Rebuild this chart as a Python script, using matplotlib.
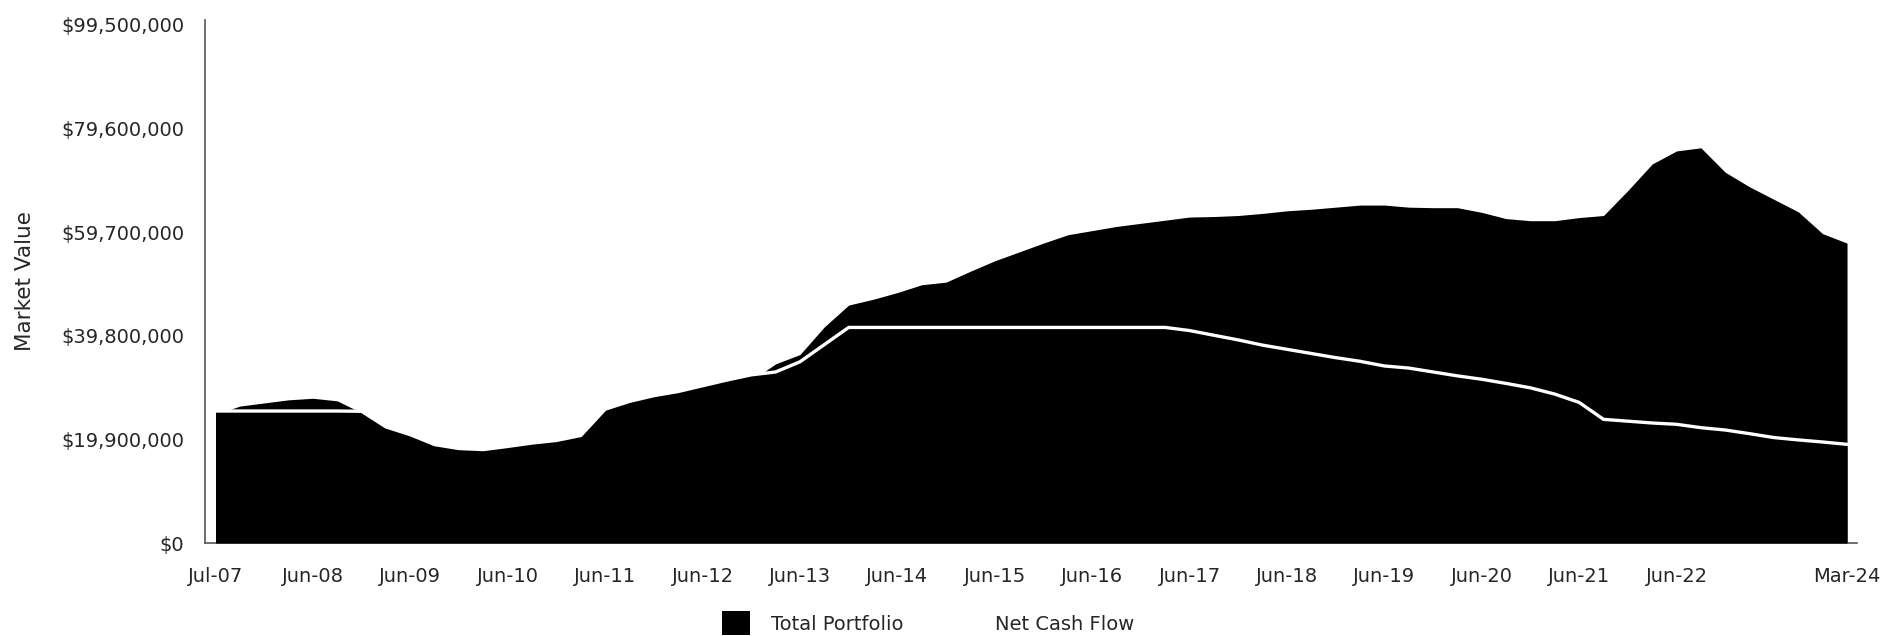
import matplotlib
matplotlib.use("Agg")
import matplotlib.pyplot as plt
from matplotlib.patches import Patch
from matplotlib.ticker import FuncFormatter
import numpy as np

# Quarterly periods, Jul-07 through Mar-24
periods = [
    "Jul-07", "Sep-07", "Dec-07", "Mar-08", "Jun-08", "Sep-08", "Dec-08", "Mar-09",
    "Jun-09", "Sep-09", "Dec-09", "Mar-10", "Jun-10", "Sep-10", "Dec-10", "Mar-11",
    "Jun-11", "Sep-11", "Dec-11", "Mar-12", "Jun-12", "Sep-12", "Dec-12", "Mar-13",
    "Jun-13", "Sep-13", "Dec-13", "Mar-14", "Jun-14", "Sep-14", "Dec-14", "Mar-15",
    "Jun-15", "Sep-15", "Dec-15", "Mar-16", "Jun-16", "Sep-16", "Dec-16", "Mar-17",
    "Jun-17", "Sep-17", "Dec-17", "Mar-18", "Jun-18", "Sep-18", "Dec-18", "Mar-19",
    "Jun-19", "Sep-19", "Dec-19", "Mar-20", "Jun-20", "Sep-20", "Dec-20", "Mar-21",
    "Jun-21", "Sep-21", "Dec-21", "Mar-22", "Jun-22", "Sep-22", "Dec-22", "Mar-23",
    "Jun-23", "Sep-23", "Dec-23", "Mar-24",
]

# Market value of the total portfolio ($ millions)
total_portfolio = [
    24.7, 26.3, 26.9, 27.5, 27.8, 27.3, 25.0, 22.0,
    20.6, 18.7, 17.9, 17.7, 18.3, 19.0, 19.5, 20.4,
    25.5, 27.0, 28.1, 28.9, 29.8, 31.0, 31.2, 34.4,
    36.2, 41.5, 45.7, 46.8, 48.1, 49.6, 50.1, 52.2,
    54.2, 55.9, 57.6, 59.2, 60.0, 60.8, 61.4, 62.0,
    62.6, 62.7, 62.9, 63.3, 63.8, 64.1, 64.5, 64.9,
    64.9, 64.5, 64.4, 64.4, 63.5, 62.3, 61.9, 61.9,
    62.5, 62.9, 67.7, 72.8, 75.3, 75.9, 71.2, 68.4,
    66.0, 63.6, 59.4, 57.6,
]

# Cumulative net cash flow ($ millions)
net_cash_flow = [
    25.35, 25.35, 25.35, 25.35, 25.35, 25.35, 25.3, 22.3,
    20.8, 18.9, 18.15, 17.95, 18.55, 19.2, 19.7, 20.65,
    25.7, 27.2, 28.3, 29.1, 30.2, 31.3, 32.3, 32.85,
    34.8, 38.1, 41.4, 41.4, 41.4, 41.4, 41.4, 41.4,
    41.4, 41.4, 41.4, 41.4, 41.4, 41.4, 41.4, 41.4,
    40.8, 39.9, 39.0, 38.0, 37.2, 36.4, 35.6, 34.9,
    34.0, 33.6, 32.85, 32.1, 31.45, 30.65, 29.8, 28.6,
    27.0, 23.75, 23.4, 23.05, 22.8, 22.15, 21.7, 21.0,
    20.25, 19.8, 19.4, 18.95,
]

tick_periods = ["Jul-07", "Jun-08", "Jun-09", "Jun-10", "Jun-11", "Jun-12",
                "Jun-13", "Jun-14", "Jun-15", "Jun-16", "Jun-17", "Jun-18",
                "Jun-19", "Jun-20", "Jun-21", "Jun-22", "Mar-24"]

y_step = 19_900_000
y_ticks = [0, y_step, 2 * y_step, 3 * y_step, 4 * y_step, 5 * y_step]

x = np.arange(len(periods))
tp = np.array(total_portfolio) * 1e6
ncf = np.array(net_cash_flow) * 1e6

plt.rcParams["font.family"] = ["DejaVu Sans"]
text_color = "#262626"

fig = plt.figure(figsize=(18.83, 6.36), dpi=100)
ax = fig.add_axes([0.1089, 0.1462, 0.8773, 0.8224])

ax.fill_between(x, 0, tp, color="black", linewidth=0, zorder=2)
ax.fill_between(x, 0, ncf, color="black", linewidth=0, zorder=3)
ax.plot(x, ncf, color="white", linewidth=2.4, solid_joinstyle="miter", zorder=4)

ax.set_xlim(-0.43, len(periods) - 1 + 0.41)
ax.set_ylim(0, 100_450_000)

ax.set_xticks([periods.index(p) for p in tick_periods])
ax.set_xticklabels(tick_periods)
ax.set_yticks(y_ticks)
ax.yaxis.set_major_formatter(FuncFormatter(lambda v, _: f"${v:,.0f}"))

ax.tick_params(axis="both", length=0, labelsize=14, colors=text_color)
ax.tick_params(axis="x", pad=17)
ax.tick_params(axis="y", pad=15)

for side in ("top", "right"):
    ax.spines[side].set_visible(False)
for side in ("left", "bottom"):
    ax.spines[side].set_color("#555555")
    ax.spines[side].set_linewidth(1.2)

ax.set_ylabel("Market Value", fontsize=15.5, color=text_color, labelpad=19)

handles = [Patch(facecolor="black", edgecolor="none", label="Total Portfolio"),
           Patch(facecolor="white", edgecolor="none", label="Net Cash Flow")]
fig.legend(handles=handles, loc="center", bbox_to_anchor=(0.493, 0.02),
           ncol=2, frameon=False, fontsize=14, handlelength=1.4,
           handleheight=1.5, handletextpad=1.1, columnspacing=2.2,
           labelcolor=text_color)

fig.savefig("out.png", dpi=100, facecolor="white")
